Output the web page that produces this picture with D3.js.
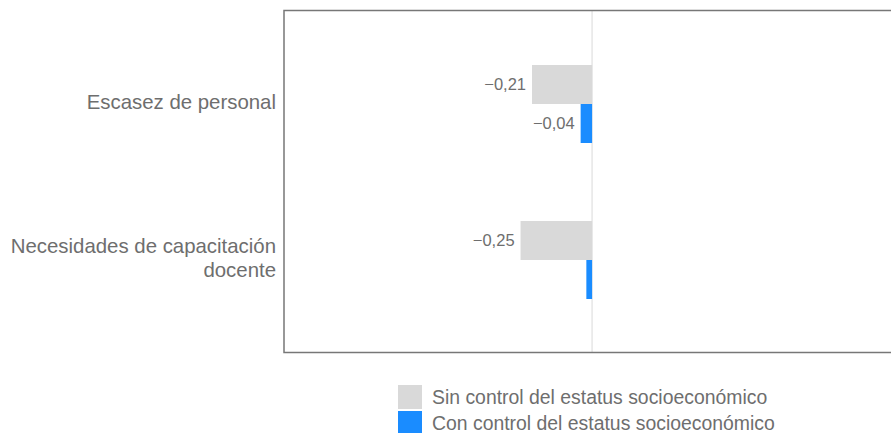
<!DOCTYPE html>
<html>
<head>
<meta charset="utf-8">
<script src="https://cdn.jsdelivr.net/npm/d3@7/dist/d3.min.js"></script>
<style>
  html, body { margin: 0; padding: 0; background: #fff; }
  svg { display: block; font-family: "Liberation Sans", Arial, Helvetica, sans-serif; }
</style>
</head>
<body>
<svg id="chart" width="891" height="433"></svg>
<script>
// Categories (each label may wrap onto several lines)
const categories = ["Escasez de personal", "Necesidades de capacitación docente"];
const categoryLines = [["Escasez de personal"], ["Necesidades de capacitación", "docente"]];

// Series
const seriesNames = ["Sin control del estatus socioeconómico", "Con control del estatus socioeconómico"];
const sinControl = [-0.21, -0.25];
const conControl = [-0.04, -0.02];
// Values shown as labels (null = no label)
const sinLabels = ["−0,21", "−0,25"];
const conLabels = ["−0,04", null];

const colors = ["#d9d9d9", "#1a8cff"];
const textColor = "#6e6e6e";

const svg = d3.select("#chart");

const plot = { left: 284, right: 891, top: 10.5, bottom: 352.5 };

const x = d3.scaleLinear().domain([-1.077, 1.045]).range([plot.left, plot.right]);

const y = d3.scaleBand()
  .domain(categories)
  .range([26, 338])
  .paddingInner(0.5)
  .paddingOuter(0.25);

const sub = d3.scaleBand()
  .domain(seriesNames)
  .range([0, y.bandwidth()]);

// zero reference line
svg.append("line")
  .attr("x1", x(0)).attr("x2", x(0))
  .attr("y1", plot.top).attr("y2", plot.bottom)
  .attr("stroke", "#e6e6e6").attr("stroke-width", 1.5);

// frame: top, left and bottom edges
svg.append("path")
  .attr("d", `M${plot.right},${plot.top}H${plot.left}V${plot.bottom}H${plot.right}`)
  .attr("fill", "none")
  .attr("stroke", "#777")
  .attr("stroke-width", 1.5);

const rows = categories.map((c, i) => ({
  cat: c,
  values: [
    { s: seriesNames[0], v: sinControl[i], label: sinLabels[i], color: colors[0] },
    { s: seriesNames[1], v: conControl[i], label: conLabels[i], color: colors[1] }
  ]
}));

const g = svg.selectAll("g.cat")
  .data(rows)
  .join("g")
  .attr("class", "cat")
  .attr("transform", d => `translate(0,${y(d.cat)})`);

g.selectAll("rect")
  .data(d => d.values)
  .join("rect")
  .attr("x", d => x(Math.min(0, d.v)))
  .attr("width", d => Math.abs(x(d.v) - x(0)))
  .attr("y", d => sub(d.s))
  .attr("height", sub.bandwidth())
  .attr("fill", d => d.color);

g.selectAll("text.val")
  .data(d => d.values.filter(v => v.label))
  .join("text")
  .attr("class", "val")
  .attr("x", d => x(Math.min(0, d.v)) - 6)
  .attr("y", d => sub(d.s) + sub.bandwidth() / 2)
  .attr("dy", "0.35em")
  .attr("text-anchor", "end")
  .attr("font-size", 16.5)
  .attr("fill", textColor)
  .text(d => d.label);

// category labels
svg.selectAll("text.cat")
  .data(categories)
  .join("text")
  .attr("class", "cat")
  .attr("text-anchor", "end")
  .attr("font-size", 20.4)
  .attr("fill", textColor)
  .each(function (c, i) {
    const lines = categoryLines[i];
    const lh = 24;
    const cy = y(c) + y.bandwidth() / 2 - 2;
    const t = d3.select(this);
    lines.forEach((ln, j) => {
      t.append("tspan")
        .attr("x", 276)
        .attr("y", cy + (j - (lines.length - 1) / 2) * lh)
        .attr("dy", "0.35em")
        .text(ln);
    });
  });

// legend
const legend = svg.append("g").attr("transform", "translate(398,385)");
const li = legend.selectAll("g")
  .data(seriesNames)
  .join("g")
  .attr("transform", (d, i) => `translate(0,${i * 26})`);
li.append("rect")
  .attr("width", 24).attr("height", 24)
  .attr("fill", (d, i) => colors[i]);
li.append("text")
  .attr("x", 34).attr("y", 12)
  .attr("dy", "0.35em")
  .attr("font-size", 19.4)
  .attr("fill", textColor)
  .text(d => d);
</script>
</body>
</html>
